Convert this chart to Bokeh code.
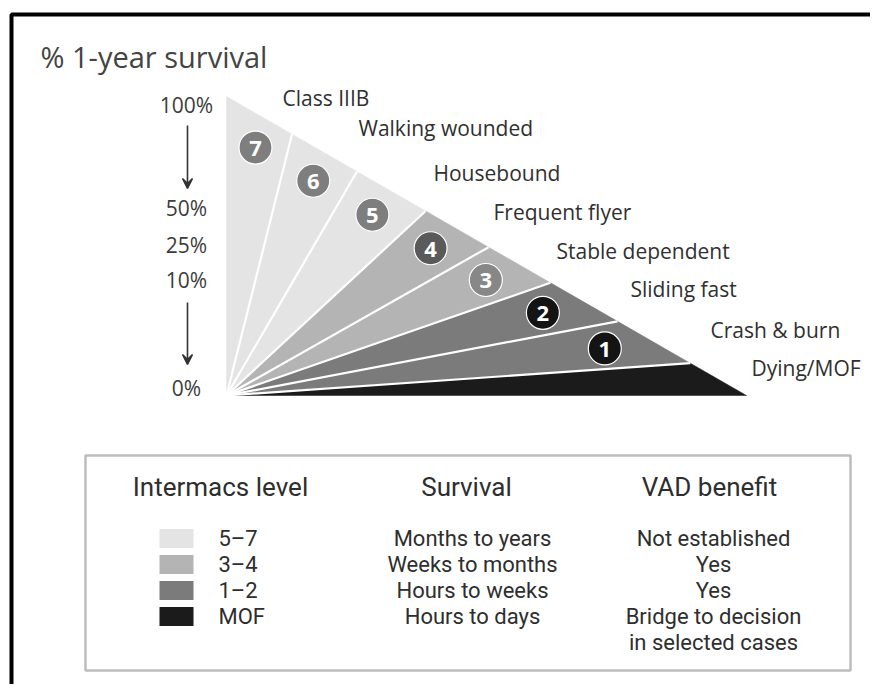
from bokeh.plotting import figure
from bokeh.models import Range1d, Arrow, VeeHead
from bokeh.core.properties import value
from bokeh.embed import file_html
from bokeh.resources import INLINE

# ---------------- data ----------------
levels = ["7", "6", "5", "4", "3", "2", "1", "MOF"]
profiles = ["Class IIIB", "Walking wounded", "Housebound", "Frequent flyer",
            "Stable dependent", "Sliding fast", "Crash & burn", "Dying/MOF"]
# share of the survival slope (from 100% down to 0%) where each wedge ends
wedge_edges = [0.0, 0.126, 0.251, 0.383, 0.504, 0.623, 0.752, 0.892, 1.0]
wedge_group = ["5–7", "5–7", "5–7", "3–4", "3–4", "1–2", "1–2", "MOF"]
survival_ticks = ["100%", "50%", "25%", "10%", "0%"]
legend_levels = ["5–7", "3–4", "1–2", "MOF"]
legend_survival = ["Months to years", "Weeks to months", "Hours to weeks", "Hours to days"]
legend_vad = [["Not established"], ["Yes"], ["Yes"], ["Bridge to decision", "in selected cases"]]
headers = ["Intermacs level", "Survival", "VAD benefit"]

# ---------------- styles / layout ----------------
group_color = {"5–7": "#e4e4e4", "3–4": "#b4b4b4", "1–2": "#7b7b7b", "MOF": "#1b1b1b"}
badge_color = {"7": "#7e7e7e", "6": "#7e7e7e", "5": "#7e7e7e", "4": "#5a5a5a",
               "3": "#878787", "2": "#141414", "1": "#141414"}
APEX = (226.0, 395.0)
TOP = (226.0, 96.0)
RIGHT = (746.0, 395.0)
LABEL_XY = [(282, 97), (358, 127), (433, 172), (493, 211), (556, 250),
            (630, 288), (710, 329), (751, 367)]
TICK_Y = [104, 207, 244, 279, 387]
ROW_Y = [538, 564, 590, 616, 642]
MAIN_FONT = value("Open Sans")
COND_FONT = value("Roboto")


def hyp(t):
    return (TOP[0] + t * (RIGHT[0] - TOP[0]), TOP[1] + t * (RIGHT[1] - TOP[1]))


p = figure(width=870, height=684, x_range=Range1d(0, 870), y_range=Range1d(684, 0),
           x_axis_type=None, y_axis_type=None, toolbar_location=None,
           output_backend="svg", min_border=0, outline_line_color=None,
           background_fill_color="white", border_fill_color="white")

# outer frame
p.quad(left=[11], right=[895], top=[14], bottom=[697], fill_color=None,
       line_color="black", line_width=4)

# title
p.text(x=[40], y=[56], text=["% 1-year survival"], text_font=MAIN_FONT,
       text_font_size="29px", text_color="#444444", text_baseline="middle")

# wedges
xs, ys, cols = [], [], []
for i in range(len(levels)):
    a = hyp(wedge_edges[i])
    b = hyp(wedge_edges[i + 1])
    xs.append([APEX[0], a[0], b[0]])
    ys.append([APEX[1], a[1], b[1]])
    cols.append(group_color[wedge_group[i]])
p.patches(xs=xs, ys=ys, fill_color=cols, line_color=cols, line_width=0.5)

# white separators
sx, sy = [], []
for t in wedge_edges[1:-1]:
    h = hyp(t)
    sx.append([APEX[0], h[0]])
    sy.append([APEX[1], h[1]])
p.multi_line(xs=sx, ys=sy, line_color="white", line_width=2.2)

# numbered badges
bx, by, bt, bc = [], [], [], []
for i, lv in enumerate(levels):
    if lv == "MOF":
        continue
    h = hyp((wedge_edges[i] + wedge_edges[i + 1]) / 2)
    bx.append(APEX[0] + 0.885 * (h[0] - APEX[0]))
    by.append(APEX[1] + 0.885 * (h[1] - APEX[1]))
    bt.append(lv)
    bc.append(badge_color[lv])
p.scatter(x=bx, y=by, size=33, fill_color=bc, line_color="white", line_width=1.2)
p.text(x=bx, y=by, text=bt, text_font=value("Open Sans"), text_font_style="bold",
       text_font_size="22px", text_color="white", text_align="center",
       text_baseline="middle", y_offset=1)

# profile labels
p.text(x=[xy[0] for xy in LABEL_XY], y=[xy[1] for xy in LABEL_XY], text=profiles,
       text_font=MAIN_FONT, text_font_size="21px", text_color="#303030",
       text_baseline="middle")

# survival scale labels
p.text(x=[186] * len(survival_ticks), y=TICK_Y, text=survival_ticks,
       text_font=MAIN_FONT, text_font_size="21px", text_color="#3c3c3c",
       text_align="center", text_baseline="middle")
for y0, y1 in [(TICK_Y[0] + 21, TICK_Y[1] - 19), (TICK_Y[3] + 23, TICK_Y[4] - 23)]:
    p.add_layout(Arrow(end=VeeHead(size=10, line_color="#333333", fill_color="#333333",
                                   line_width=1.5),
                       x_start=187, y_start=y0, x_end=187, y_end=y1,
                       line_color="#333333", line_width=1.6))

# legend box
p.quad(left=[85], right=[850], top=[455], bottom=[670], fill_color="white",
       line_color="#bdbdbd", line_width=2.5)
p.text(x=[220, 466, 709], y=[486, 486, 486], text=headers, text_font=COND_FONT,
       text_font_size="26px", text_color="#2e2e2e", text_align="center",
       text_baseline="middle")
p.quad(left=[159] * 4, right=[193] * 4,
       top=[y - 9.5 for y in ROW_Y[:4]], bottom=[y + 9.5 for y in ROW_Y[:4]],
       fill_color=[group_color[g] for g in legend_levels], line_color=None)
p.text(x=[218] * 4, y=ROW_Y[:4], text=legend_levels, text_font=COND_FONT,
       text_font_size="22px", text_color="#2e2e2e", text_baseline="middle")
p.text(x=[472] * 4, y=ROW_Y[:4], text=legend_survival, text_font=COND_FONT,
       text_font_size="22px", text_color="#2e2e2e", text_align="center",
       text_baseline="middle")
vx, vy, vt = [], [], []
for i, lines in enumerate(legend_vad):
    for j, ln in enumerate(lines):
        vx.append(713)
        vy.append(ROW_Y[i + j])
        vt.append(ln)
p.text(x=vx, y=vy, text=vt, text_font=COND_FONT, text_font_size="22px",
       text_color="#2e2e2e", text_align="center", text_baseline="middle")

open("out.html", "w").write(file_html(p, INLINE))
